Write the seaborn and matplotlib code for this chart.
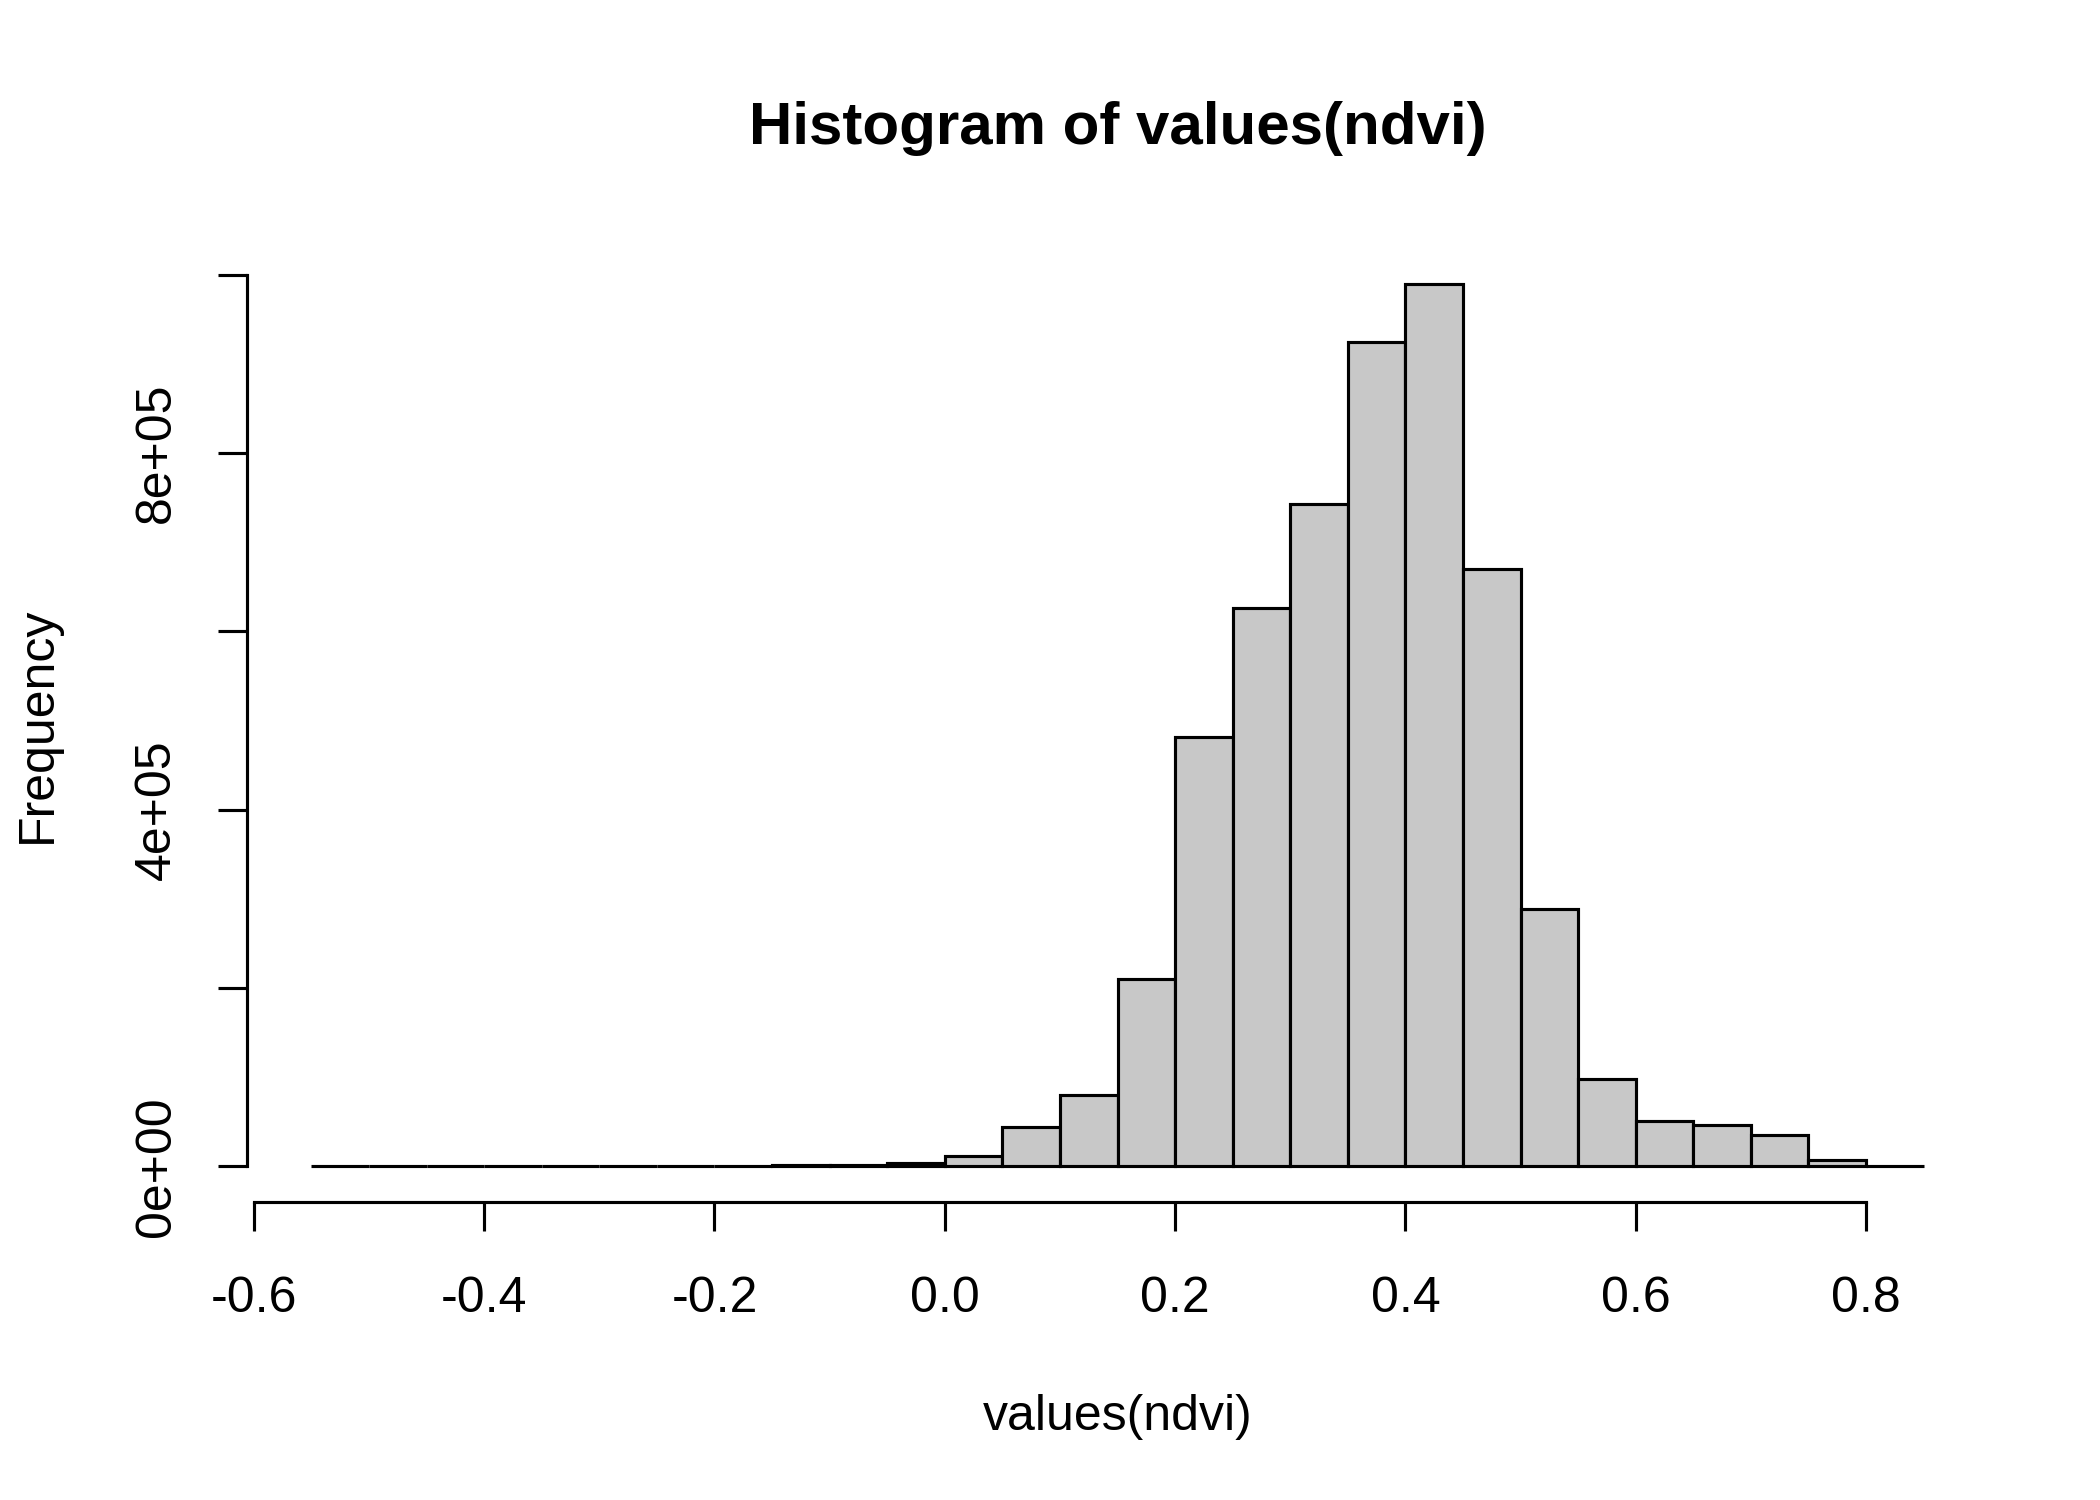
import matplotlib
matplotlib.use("Agg")
import matplotlib.pyplot as plt
import seaborn as sns
import numpy as np

# bin edges of the ndvi histogram (width 0.05)
bin_edges = [-0.55, -0.50, -0.45, -0.40, -0.35, -0.30, -0.25, -0.20, -0.15,
             -0.10, -0.05, 0.00, 0.05, 0.10, 0.15, 0.20, 0.25, 0.30, 0.35,
             0.40, 0.45, 0.50, 0.55, 0.60, 0.65, 0.70, 0.75, 0.80, 0.85]
# counts per bin
counts = [150, 200, 250, 300, 350, 350, 400, 600, 900,
          1500, 3800, 12000, 44500, 80000, 210000, 481000, 626000, 743000, 925000,
          990000, 670000, 288000, 98000, 50500, 46500, 35500, 6800, 0]

x_ticks = [-0.6, -0.4, -0.2, 0.0, 0.2, 0.4, 0.6, 0.8]
x_labels = ["-0.6", "-0.4", "-0.2", "0.0", "0.2", "0.4", "0.6", "0.8"]
y_ticks = [0, 200000, 400000, 600000, 800000, 1000000]
y_labels = ["0e+00", "", "4e+05", "", "8e+05", ""]

sns.set_style("ticks")
plt.rcParams["font.family"] = ["Liberation Sans", "DejaVu Sans"]
plt.rcParams["text.color"] = "black"
plt.rcParams["axes.labelcolor"] = "black"
plt.rcParams["xtick.color"] = "black"
plt.rcParams["ytick.color"] = "black"
plt.rcParams["axes.edgecolor"] = "black"

edges = np.array(bin_edges)
centers = (edges[:-1] + edges[1:]) / 2

fig = plt.figure(figsize=(7, 5), dpi=300)
ax = fig.add_axes([0.1176, 0.199, 0.9467 - 0.1176, 0.8344 - 0.199])

sns.histplot(x=centers, weights=counts, bins=bin_edges, color="#C8C8C8",
             edgecolor="black", linewidth=0.75, alpha=1, ax=ax)

ax.set_xlim(-0.606, 0.906)
ax.set_ylim(-39600, 1029600)

for s in ["top", "right"]:
    ax.spines[s].set_visible(False)
ax.spines["bottom"].set_bounds(-0.6, 0.8)
ax.spines["left"].set_bounds(0, 1000000)
ax.spines["bottom"].set_linewidth(0.75)
ax.spines["left"].set_linewidth(0.75)

ax.set_xticks(x_ticks)
ax.set_xticklabels(x_labels)
ax.set_yticks(y_ticks)
ax.set_yticklabels(y_labels, rotation=90, va="center")
ax.tick_params(axis="both", length=7, width=0.75, labelsize=12,
               color="black", labelcolor="black")
ax.tick_params(axis="x", pad=11)
ax.tick_params(axis="y", pad=9)

ax.set_xlabel("values(ndvi)", fontsize=12, color="black")
ax.xaxis.set_label_coords(0.5, -0.2266)
ax.xaxis.label.set_va("center")
ax.set_ylabel("Frequency", fontsize=12, color="black")
ax.yaxis.set_label_coords(-0.120, 0.5)
ax.yaxis.label.set_va("center")

ax.set_title("Histogram of values(ndvi)", fontsize=14.4, fontweight="bold",
             color="black", y=1.126, pad=0)
ax.title.set_va("center")

fig.savefig("out.png", dpi=300, facecolor="white")
